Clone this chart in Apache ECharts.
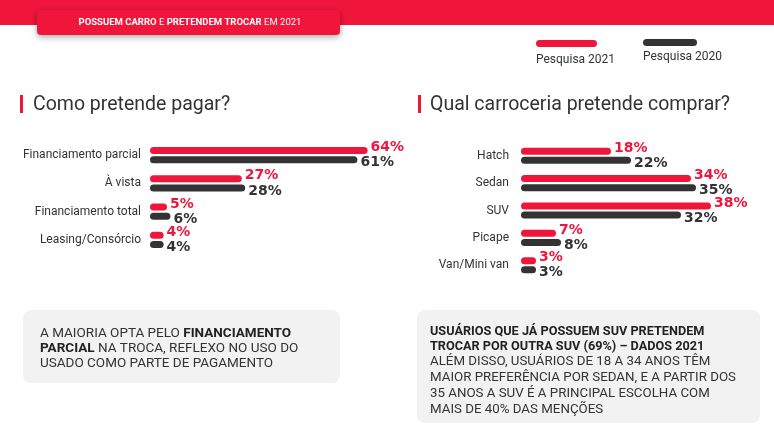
<!DOCTYPE html>
<html>
<head>
<meta charset="utf-8">
<script src="https://cdn.jsdelivr.net/npm/echarts@6/dist/echarts.min.js"></script>
<style>
html,body{margin:0;padding:0;background:#fff;}
#c{width:774px;height:436px;}
</style>
</head>
<body>
<div id="c"></div>
<script>
// ---- data ----
var payCategories = ['Financiamento parcial', 'À vista', 'Financiamento total', 'Leasing/Consórcio'];
var pay2021 = [64, 27, 5, 4];
var pay2020 = [61, 28, 6, 4];

var bodyCategories = ['Hatch', 'Sedan', 'SUV', 'Picape', 'Van/Mini van'];
var body2021 = [18, 34, 38, 7, 3];
var body2020 = [22, 35, 32, 8, 3];

var seriesNames = ['Pesquisa 2021', 'Pesquisa 2020'];
var headerText = ['POSSUEM CARRO', ' E ', 'PRETENDEM TROCAR', ' EM 2021'];
var leftTitle = 'Como pretende pagar?';
var rightTitle = 'Qual carroceria pretende comprar?';

var RED = '#f0163b';
var DARK = '#333333';
var FONT = 'Roboto, "Open Sans", sans-serif';
var VFONT = '"DejaVu Sans", Roboto, sans-serif';

var chart = echarts.init(document.getElementById('c'), null, {renderer: 'canvas'});

function barSeries(name, data, color, xi, yi, dy) {
  return {
    type: 'bar', name: name, data: data, xAxisIndex: xi, yAxisIndex: yi,
    barWidth: 7, barGap: '30%', barCategoryGap: '40%',
    itemStyle: {color: color, borderRadius: 3.5},
    label: {
      show: true, position: 'right', distance: 3, offset: [0, dy],
      formatter: '{c}%', color: color, fontFamily: VFONT,
      fontWeight: 'bold', fontSize: 14
    },
    silent: true
  };
}

var catAxisCommon = {
  type: 'category', inverse: true,
  axisLine: {show: false}, axisTick: {show: false}, splitLine: {show: false},
  axisLabel: {color: '#333', fontSize: 12, fontFamily: FONT}
};

var option = {
  animation: false,
  textStyle: {fontFamily: FONT},
  grid: [
    {left: 150, top: 141, width: 340, height: 113},
    {left: 521, top: 142, width: 250, height: 137}
  ],
  xAxis: [
    {type: 'value', gridIndex: 0, min: 0, max: 100, show: false},
    {type: 'value', gridIndex: 1, min: 0, max: 50, show: false}
  ],
  yAxis: [
    Object.assign({}, catAxisCommon, {gridIndex: 0, data: payCategories, axisLabel: Object.assign({}, catAxisCommon.axisLabel, {margin: 9})}),
    Object.assign({}, catAxisCommon, {gridIndex: 1, data: bodyCategories, axisLabel: Object.assign({}, catAxisCommon.axisLabel, {margin: 12})})
  ],
  series: [
    barSeries(seriesNames[0], pay2021, RED, 0, 0, -3),
    barSeries(seriesNames[1], pay2020, DARK, 0, 0, 3),
    barSeries(seriesNames[0], body2021, RED, 1, 1, -3),
    barSeries(seriesNames[1], body2020, DARK, 1, 1, 3)
  ],
  graphic: [
    {type: 'rect', shape: {x: 0, y: 0, width: 774, height: 25}, style: {fill: RED}, z: 1},
    {type: 'rect', shape: {x: 37, y: 10, width: 303, height: 25, r: 4},
      style: {fill: RED, shadowBlur: 6, shadowColor: 'rgba(0,0,0,0.35)', shadowOffsetY: 2}, z: 2},
    {type: 'text', x: 190, y: 23, z: 3,
      style: {
        text: '{b|' + headerText[0] + '}{n|' + headerText[1] + '}{b|' + headerText[2] + '}{n|' + headerText[3] + '}',
        align: 'center', verticalAlign: 'middle',
        rich: {
          b: {fill: '#fff', fontWeight: 'bold', fontSize: 9.5, fontFamily: FONT},
          n: {fill: '#fff', fontSize: 9.5, fontFamily: FONT}
        }
      }},
    // legend
    {type: 'rect', shape: {x: 536, y: 40, width: 61, height: 7, r: 3.5}, style: {fill: RED}},
    {type: 'text', x: 536, y: 60, style: {text: seriesNames[0], fill: '#333', fontSize: 12, fontFamily: FONT, verticalAlign: 'middle'}},
    {type: 'rect', shape: {x: 643, y: 39, width: 54, height: 7, r: 3.5}, style: {fill: DARK}},
    {type: 'text', x: 643, y: 57, style: {text: seriesNames[1], fill: '#333', fontSize: 12, fontFamily: FONT, verticalAlign: 'middle'}},
    // section titles
    {type: 'rect', shape: {x: 20, y: 95, width: 3, height: 18}, style: {fill: RED}},
    {type: 'text', x: 33, y: 105, style: {text: leftTitle, fill: '#333', fontSize: 19.5, fontFamily: FONT, verticalAlign: 'middle'}},
    {type: 'rect', shape: {x: 418, y: 95, width: 3, height: 18}, style: {fill: RED}},
    {type: 'text', x: 430, y: 105, style: {text: rightTitle, fill: '#333', fontSize: 19.5, fontFamily: FONT, verticalAlign: 'middle'}},
    // note boxes
    {type: 'rect', shape: {x: 23, y: 310, width: 317, height: 73, r: 8}, style: {fill: '#f2f2f2'}},
    {type: 'text', x: 40, y: 326, style: {
      text: 'A MAIORIA OPTA PELO {b|FINANCIAMENTO}\n{b|PARCIAL} NA TROCA, REFLEXO NO USO DO\nUSADO COMO PARTE DE PAGAMENTO',
      fill: '#333', fontSize: 13.5, fontFamily: FONT, lineHeight: 15, verticalAlign: 'top',
      rich: {b: {fill: '#222', fontWeight: 'bold', fontSize: 13.5, fontFamily: FONT, lineHeight: 15}}
    }},
    {type: 'rect', shape: {x: 417, y: 310, width: 343, height: 113, r: 8}, style: {fill: '#f2f2f2'}},
    {type: 'text', x: 430, y: 324, style: {
      text: '{b|USUÁRIOS QUE JÁ POSSUEM SUV PRETENDEM}\n{b|TROCAR POR OUTRA SUV (69%) – DADOS 2021}\nALÉM DISSO, USUÁRIOS DE 18 A 34 ANOS TÊM\nMAIOR PREFERÊNCIA POR SEDAN, E A PARTIR DOS\n35 ANOS A SUV É A PRINCIPAL ESCOLHA COM\nMAIS DE 40% DAS MENÇÕES',
      fill: '#333', fontSize: 13.3, fontFamily: FONT, lineHeight: 16, verticalAlign: 'top',
      rich: {b: {fill: '#222', fontWeight: 'bold', fontSize: 12.7, fontFamily: FONT, lineHeight: 15}}
    }}
  ]
};
chart.setOption(option);
</script>
</body>
</html>
